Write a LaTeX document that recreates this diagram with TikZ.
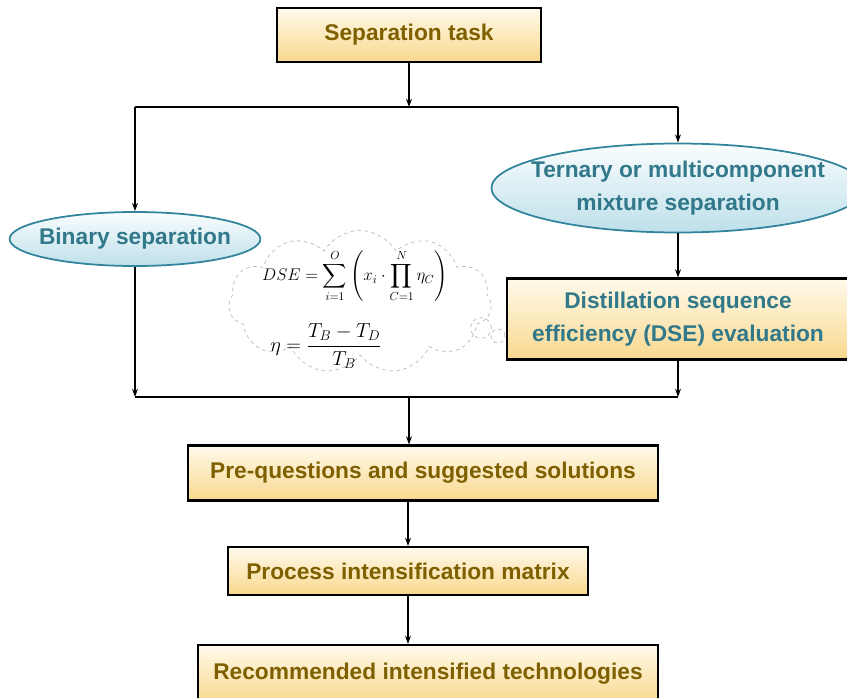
\documentclass[tikz,border=0pt]{standalone}
\usepackage{amsmath}
\usepackage{fontspec}
\setmainfont{Liberation Sans}
\usepackage{tikz}
\usetikzlibrary{arrows.meta}
\usetikzlibrary{shapes.geometric}
\usetikzlibrary{shapes.symbols}
\definecolor{goldtext}{HTML}{7F6000}
\definecolor{tealtext}{HTML}{31788A}
\definecolor{tealline}{HTML}{31849B}
\definecolor{boxtop}{HTML}{FFFAEB}
\definecolor{boxbot}{HTML}{F9D88E}
\definecolor{elltop}{HTML}{FAFDFE}
\definecolor{ellbot}{HTML}{BEE0EA}
\tikzset{stepbox/.style={draw=black,line width=1.8pt,rectangle,top color=boxtop,bottom color=boxbot,
   inner sep=0pt,align=center,font=\fontsize{19.4}{28}\selectfont\bfseries},
 goldbox/.style={stepbox,text=goldtext},
 tealbox/.style={stepbox,text=tealtext},
 branch/.style={draw=tealline,line width=1.5pt,ellipse,top color=elltop,bottom color=ellbot,
   inner ysep=0pt,align=center,text=tealtext,font=\fontsize{19.4}{28}\selectfont\bfseries},
 link/.style={line width=1.3pt},
 puff/.style={draw=gray!55,dashed,line width=0.6pt},
 >={Stealth[length=7pt,width=5pt]},
 }

\begin{document}
\begin{tikzpicture}[x=0.03cm,y=-0.03cm]
        \useasboundingbox (0,0) rectangle (847,697);
        % flow boxes
        \node[goldbox,minimum width=7.92cm,minimum height=1.62cm] (task) at (409,35) {Separation task};
        \node[branch,inner xsep=-0.22cm,minimum height=1.62cm] (binary) at (135,239) {Binary separation};
        \node[branch,inner xsep=-0.45cm,minimum height=2.67cm] (ternary) at (678,188) {Ternary or multicomponent\\mixture separation};
        \node[tealbox,minimum width=10.26cm,minimum height=2.43cm] (dse) at (678,319) {Distillation sequence\\efficiency (DSE) evaluation};
        \node[goldbox,minimum width=14.1cm,minimum height=1.65cm] (preq) at (423,473) {Pre-questions and suggested solutions};
        \node[goldbox,minimum width=10.8cm,minimum height=1.44cm] (proc) at (408,571) {Process intensification matrix};
        \node[goldbox,minimum width=13.8cm,minimum height=1.74cm] (recom) at (428,674) {Recommended intensified technologies};

        % thought cloud with the formulas
        \node[cloud,puff,cloud puffs=11,cloud puff arc=120,aspect=1.9,
            minimum width=7.9cm,minimum height=4.3cm] (thought) at (360,302) {};
        \node[circle,puff,minimum size=0.62cm] (puffa) at (481,328) {};
        \node[circle,puff,minimum size=0.42cm] (puffb) at (498,336) {};
        \node (dsef) at (355,276) {\Large$\displaystyle DSE=\sum_{i=1}^{O}\left(x_i\cdot\prod_{C=1}^{N}\eta_C\right)$};
        \node (etaf) at (326,346) {\LARGE$\displaystyle \eta=\frac{T_B-T_D}{T_B}$};

        % junctions
        \coordinate (jtop) at (409,107);
        \coordinate (jl) at (135,107);
        \coordinate (jr) at (678,107);
        \coordinate (jbot) at (409,397);
        \coordinate (bl) at (135,397);
        \coordinate (br) at (678,397);

        \draw[link,->] (task) -- (jtop);
        \draw[link] (jl) -- (jr);
        \draw[link,->] (jl) -- (binary);
        \draw[link,->] (jr) -- (ternary);
        \draw[link,->] (ternary) -- (dse);
        \draw[link,->] (binary) -- (bl);
        \draw[link,->] (dse) -- (br);
        \draw[link] (bl) -- (br);
        \draw[link,->] (jbot) -- (jbot |- preq.north);
        \draw[link,->] (proc.north |- preq.south) -- (proc);
        \draw[link,->] (proc) -- (proc |- recom.north);
    \end{tikzpicture}
\end{document}
